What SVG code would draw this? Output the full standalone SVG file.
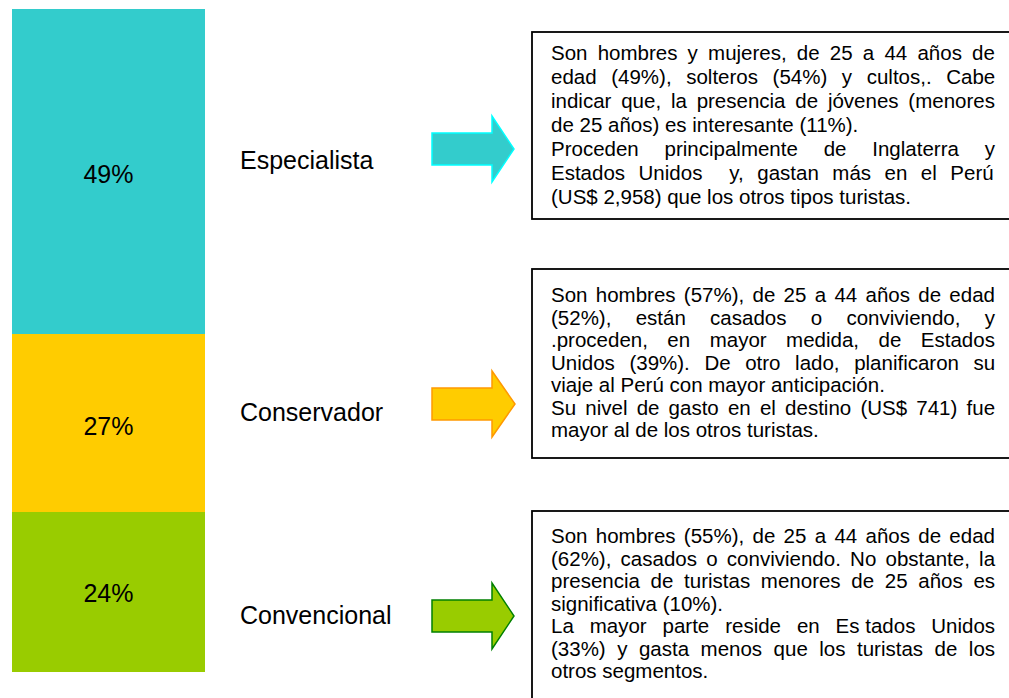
<svg xmlns="http://www.w3.org/2000/svg" width="1009" height="698" viewBox="0 0 1009 698">
<style>
.t{font-family:"Liberation Sans",Arial,sans-serif;font-size:20.5px;fill:#000;white-space:pre}
.lbl{font-family:"Liberation Sans",Arial,sans-serif;font-size:25px;fill:#000}
.pct{font-family:"Liberation Sans",Arial,sans-serif;font-size:25px;fill:#000;text-anchor:middle}
.box{fill:#fff;stroke:#000;stroke-width:1.8}
.arr{stroke-width:1.5;stroke-linejoin:miter}
</style>
<rect width="1009" height="698" fill="#fff"/>
<g id="bar">
<rect x="12" y="9" width="193" height="325" fill="#33CCCC"/>
<rect x="12" y="334" width="193" height="178" fill="#FFCC00"/>
<rect x="12" y="512" width="193" height="160" fill="#99CC00"/>
<text class="pct" x="108.5" y="183">49%</text>
<text class="pct" x="108.5" y="435">27%</text>
<text class="pct" x="108.5" y="602">24%</text>
</g>
<g id="especialista">
<text class="lbl" x="240" y="169">Especialista</text>
</g>
<g id="conservador">
<text class="lbl" x="240" y="421">Conservador</text>
</g>
<g id="convencional">
<text class="lbl" x="240" y="624">Convencional</text>
</g>
<g id="connectors">
<polygon class="arr" fill="#33CCCC" stroke="#00FFFF" points="432,133 492,133 492,116 514,149 492,182 492,165 432,165"/>
<polygon class="arr" fill="#FFCC00" stroke="#FF9900" points="432,388 492,388 492,371 515,404 492,437 492,420 432,420"/>
<polygon class="arr" fill="#99CC00" stroke="#008000" points="432,600 492,600 492,583 514,616 492,649 492,632 432,632"/>
</g>
<g id="box-especialista">
<rect class="box" x="532" y="32" width="490" height="187"/>
<text class="t" x="551" y="60" word-spacing="4.5">Son hombres y mujeres, de 25 a 44 años de</text>
<text class="t" x="551" y="84" word-spacing="8.9">edad (49%), solteros (54%) y cultos,. Cabe</text>
<text class="t" x="551" y="108" word-spacing="4.1">indicar que, la presencia de jóvenes (menores</text>
<text class="t" x="551" y="132">de 25 años) es interesante (11%).</text>
<text class="t" x="551" y="156" word-spacing="20.1">Proceden principalmente de Inglaterra y</text>
<text class="t" x="551" y="180" word-spacing="7.8">Estados Unidos  y, gastan más en el Perú</text>
<text class="t" x="551" y="204">(US$ 2,958) que los otros tipos turistas.</text>
</g>
<g id="box-conservador">
<rect class="box" x="532" y="269" width="490" height="189"/>
<text class="t" x="551" y="302" word-spacing="2.6">Son hombres (57%), de 25 a 44 años de edad</text>
<text class="t" x="551" y="324.5" word-spacing="18.6">(52%), están casados o conviviendo, y</text>
<text class="t" x="551" y="347" word-spacing="13.8">.proceden, en mayor medida, de Estados</text>
<text class="t" x="551" y="369.5" word-spacing="8.9">Unidos (39%). De otro lado, planificaron su</text>
<text class="t" x="551" y="392">viaje al Perú con mayor anticipación.</text>
<text class="t" x="551" y="414.5" word-spacing="3.5">Su nivel de gasto en el destino (US$ 741) fue</text>
<text class="t" x="551" y="437">mayor al de los otros turistas.</text>
</g>
<g id="box-convencional">
<rect class="box" x="532" y="511" width="490" height="200"/>
<text class="t" x="551" y="543" word-spacing="2.6">Son hombres (55%), de 25 a 44 años de edad</text>
<text class="t" x="551" y="565.5" word-spacing="3.55">(62%), casados o conviviendo. No obstante, la</text>
<text class="t" x="551" y="588" word-spacing="5">presencia de turistas menores de 25 años es</text>
<text class="t" x="551" y="610.5">significativa (10%).</text>
<text class="t" x="551" y="633" word-spacing="10.2">La mayor parte reside en Es<tspan word-spacing="0"> </tspan>tados Unidos</text>
<text class="t" x="551" y="655.5" word-spacing="5.8">(33%) y gasta menos que los turistas de los</text>
<text class="t" x="551" y="678">otros segmentos.</text>
</g>
</svg>
